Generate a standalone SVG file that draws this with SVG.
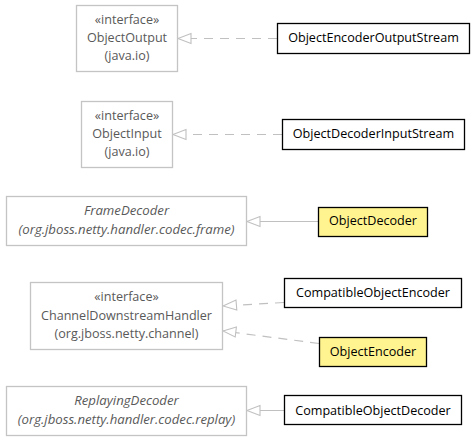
<svg xmlns="http://www.w3.org/2000/svg" width="475" height="440" viewBox="0 0 475 440">
<style>
text{font-family:"Open Sans","DejaVu Sans",sans-serif;font-size:12.6px;text-anchor:middle}
.g rect{fill:#fff;stroke:#c4c4c4;stroke-width:1.3}
.g text{fill:#595959}
.i{font-style:italic;font-size:13.2px}
.c rect{fill:#fff;stroke:#000;stroke-width:1.3}
.c text{fill:#000}
.y rect{fill:#fff48f}
.e{fill:none;stroke:#c0c0c0;stroke-width:1.2}
.d{stroke-dasharray:9,7}
.h{fill:#fff;stroke:#c0c0c0;stroke-width:1.1}
</style>
<g id="connectors">
<path class="e d" d="M277,38.5 L178,38.5"/>
<path class="e d" d="M282,134.5 L173,134.5"/>
<path class="e" d="M318,221.5 L247,221.5"/>
<path class="e d" d="M284,302.5 L223,306"/>
<path class="e d" d="M319,343.5 L223,331"/>
<path class="e" d="M284,410.5 L247,410.5"/>
<path class="h" d="M178,38.5 L191,33.5 L191,43.5 Z"/>
<path class="h" d="M173,134.5 L186,129.5 L186,139.5 Z"/>
<path class="h" d="M247,221.5 L260,216.5 L260,226.5 Z"/>
<path class="h" d="M223,306 L236,300 L236.8,310 Z"/>
<path class="h" d="M223,331 L236.4,327 L235.2,337 Z"/>
<path class="h" d="M247,410.5 L260,405.5 L260,415.5 Z"/>
</g>
<g id="ObjectOutput" class="g">
<rect x="76.5" y="5.5" width="101" height="66"/>
<text x="127" y="24">«interface»</text>
<text x="127" y="41.5">ObjectOutput</text>
<text x="127" y="59.5">(java.io)</text>
</g>
<g id="ObjectEncoderOutputStream" class="c">
<rect x="277.5" y="23.5" width="192" height="30"/>
<text x="373.5" y="41.5">ObjectEncoderOutputStream</text>
</g>
<g id="ObjectInput" class="g">
<rect x="81.5" y="101.5" width="91" height="66"/>
<text x="127" y="119.5">«interface»</text>
<text x="127" y="137.5">ObjectInput</text>
<text x="127" y="156">(java.io)</text>
</g>
<g id="ObjectDecoderInputStream" class="c">
<rect x="282.5" y="119.5" width="182" height="30"/>
<text x="373.5" y="137.5">ObjectDecoderInputStream</text>
</g>
<g id="FrameDecoder" class="g">
<rect x="6.5" y="196.5" width="240" height="49"/>
<text class="i" x="126.5" y="215">FrameDecoder</text>
<text class="i" x="126.5" y="234">(org.jboss.netty.handler.codec.frame)</text>
</g>
<g id="ObjectDecoder" class="c y">
<rect x="318.5" y="207.5" width="109" height="29"/>
<text x="373" y="224.5">ObjectDecoder</text>
</g>
<g id="ChannelDownstreamHandler" class="g">
<rect x="30.5" y="282.5" width="192" height="67"/>
<text x="126.5" y="300.5">«interface»</text>
<text x="126.5" y="319.5">ChannelDownstreamHandler</text>
<text x="126.5" y="338">(org.jboss.netty.channel)</text>
</g>
<g id="CompatibleObjectEncoder" class="c">
<rect x="284.5" y="278.5" width="177" height="29"/>
<text x="373" y="296.5">CompatibleObjectEncoder</text>
</g>
<g id="ObjectEncoder" class="c y">
<rect x="319.5" y="337.5" width="107" height="29"/>
<text x="373" y="355.5">ObjectEncoder</text>
</g>
<g id="ReplayingDecoder" class="g">
<rect x="6.5" y="386.5" width="240" height="49"/>
<text class="i" x="126.5" y="405">ReplayingDecoder</text>
<text class="i" x="126.5" y="423.5">(org.jboss.netty.handler.codec.replay)</text>
</g>
<g id="CompatibleObjectDecoder" class="c">
<rect x="284.5" y="395.5" width="177" height="29"/>
<text x="373" y="414.5">CompatibleObjectDecoder</text>
</g>
</svg>
